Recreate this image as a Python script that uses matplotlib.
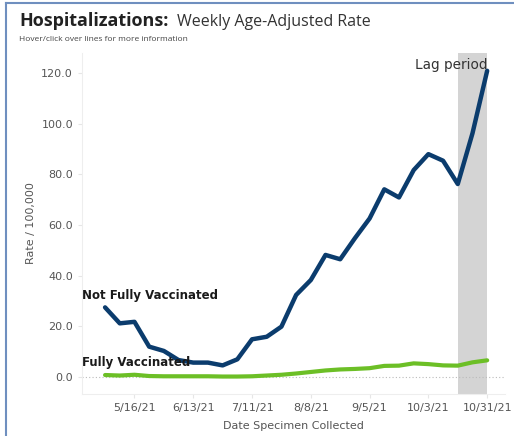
import numpy as np
import pandas as pd
import matplotlib
matplotlib.use("Agg")
import matplotlib.pyplot as plt
import matplotlib.transforms as mtransforms

# weekly specimen collection dates
dates = pd.date_range("2021-05-02", periods=27, freq="7D")

# rate / 100,000
not_fully = [27.5, 21.2, 21.8, 12.0, 10.3, 6.7, 5.7, 5.7, 4.6, 7.0, 14.9, 15.9, 19.9, 32.4,
             38.3, 48.2, 46.5, 54.8, 62.6, 74.1, 70.9, 81.7, 88.0, 85.4, 76.2, 96.2, 120.9]
fully = [0.8, 0.6, 0.9, 0.4, 0.3, 0.3, 0.3, 0.3, 0.2, 0.2, 0.3, 0.6, 0.9, 1.4,
         2.0, 2.6, 3.0, 3.2, 3.5, 4.4, 4.5, 5.4, 5.1, 4.6, 4.5, 5.8, 6.6]

tick_dates = pd.to_datetime(["2021-05-16", "2021-06-13", "2021-07-11", "2021-08-08",
                             "2021-09-05", "2021-10-03", "2021-10-31"])
y_ticks = [0, 20, 40, 60, 80, 100, 120]
lag_start = pd.Timestamp("2021-10-17")
lag_end = pd.Timestamp("2021-10-31")

blue = "#0b3c6d"
green = "#6cbf26"
grey_text = "#555555"

fig = plt.figure(figsize=(5.14, 4.36), dpi=100)
ax = fig.add_axes([0.1595, 0.0963, 0.823, 0.782])

ax.axvspan(lag_start, lag_end, color="#d4d4d4", lw=0, zorder=0)
ax.axhline(0, color="#bbbbbb", lw=0.8, ls=(0, (1, 2)), zorder=1)

ax.plot(dates, not_fully, color=blue, lw=3.2, solid_capstyle="round", solid_joinstyle="round", zorder=3)
ax.plot(dates, fully, color=green, lw=3.0, solid_capstyle="round", solid_joinstyle="round", zorder=3)

ax.set_xlim(pd.Timestamp("2021-04-21"), pd.Timestamp("2021-11-08 12:00"))
ax.set_ylim(-6.7, 127.9)

ax.set_xticks(tick_dates)
ax.set_xticklabels([f"{d.month}/{d.day}/{d.year % 100}" for d in tick_dates])
ax.set_yticks(y_ticks)
ax.set_yticklabels([f"{v:.1f}" for v in y_ticks])
ax.tick_params(axis="both", labelsize=8, colors="#e6e6e6", labelcolor=grey_text, length=3, width=0.8)

for side in ["top", "right"]:
    ax.spines[side].set_visible(False)
for side in ["left", "bottom"]:
    ax.spines[side].set_color("#eeeeee")
    ax.spines[side].set_linewidth(0.8)

ax.set_ylabel("Rate / 100,000", fontsize=8, color=grey_text, labelpad=4)
ax.set_xlabel("Date Specimen Collected", fontsize=8, color=grey_text, labelpad=6)

# series labels at the left edge of the plot
trans = mtransforms.blended_transform_factory(ax.transAxes, ax.transData)
ax.text(0.0, 30.8, "Not Fully Vaccinated", transform=trans, fontsize=8.5,
        fontweight="bold", color="#1a1a1a", va="baseline", ha="left", zorder=4)
ax.text(0.0, 4.3, "Fully Vaccinated", transform=trans, fontsize=8.5,
        fontweight="bold", color="#1a1a1a", va="baseline", ha="left", zorder=4)
ax.text(lag_end, 121.5, "Lag period", fontsize=9.8, color="#333333", ha="right", va="baseline", zorder=4)

# title block
fig.text(0.037, 0.94, "Hospitalizations:", fontsize=13, fontweight="bold", family="Open Sans",
         color="#222222", va="baseline")
fig.text(0.345, 0.94, "Weekly Age-Adjusted Rate", fontsize=11.5, family="Open Sans",
         color="#333333", va="baseline")
fig.text(0.037, 0.905, "Hover/click over lines for more information", fontsize=6,
         family="Open Sans", color="#444444", va="baseline")

# dashboard frame
fig.add_artist(plt.Line2D([0.0125, 0.0125], [0, 0.993], transform=fig.transFigure, color="#6f8fbf", lw=1.5))
fig.add_artist(plt.Line2D([0.0125, 1], [0.993, 0.993], transform=fig.transFigure, color="#6f8fbf", lw=1.5))

fig.savefig("out.png", dpi=100)
